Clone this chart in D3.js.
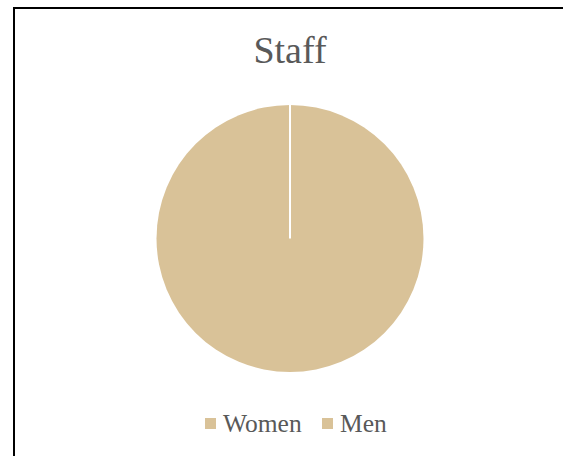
<!DOCTYPE html>
<html><head><meta charset="utf-8">
<script src="https://cdn.jsdelivr.net/npm/d3@7"></script>
<style>html,body{margin:0;padding:0;background:#fff;overflow:hidden}</style>
</head><body>
<svg id="c" width="563" height="456"></svg>
<script>
const categories = ["Women", "Men"];
const values = [100, 0];
const colors = ["#D9C298", "#D9C298"];
const title = "Staff";

const svg = d3.select("#c");
svg.append("rect").attr("x", 14).attr("y", 8).attr("width", 600).attr("height", 500)
  .attr("fill", "#fff").attr("stroke", "#000").attr("stroke-width", 2);

svg.append("text").attr("x", 290).attr("y", 63).attr("text-anchor", "middle")
  .attr("font-family", "Liberation Serif").attr("font-size", 38).attr("fill", "#595959").text(title);

const cx = 290, cy = 238.5, r = 133.5;
const pie = d3.pie().sort(null).value(d => d)(values);
const arc = d3.arc().innerRadius(0).outerRadius(r);
const g = svg.append("g").attr("transform", `translate(${cx},${cy})`);
g.selectAll("path.slice").data(pie).enter().append("path").attr("class", "slice")
  .attr("d", arc).attr("fill", (d, i) => colors[i]);
// slice borders
g.selectAll("line.sep").data(pie.filter(d => d.value > 0)).enter().append("line").attr("class", "sep")
  .attr("x1", 0).attr("y1", 0)
  .attr("x2", d => r * Math.sin(d.startAngle)).attr("y2", d => -r * Math.cos(d.startAngle))
  .attr("stroke", "#fff").attr("stroke-width", 2);

const legX = [205, 322];
const lg = svg.append("g");
categories.forEach((c, i) => {
  lg.append("rect").attr("x", legX[i]).attr("y", 418).attr("width", 11).attr("height", 11).attr("fill", colors[i]);
  lg.append("text").attr("x", legX[i] + 18).attr("y", 432).attr("font-family", "Liberation Serif")
    .attr("font-size", 25.5).attr("fill", "#595959").text(c);
});
</script>
</body></html>
